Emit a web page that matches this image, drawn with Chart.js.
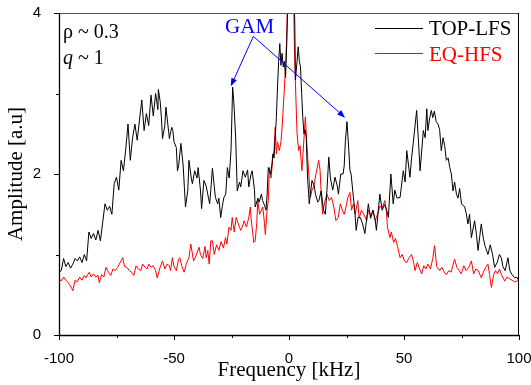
<!DOCTYPE html>
<html><head><meta charset="utf-8">
<script src="https://cdn.jsdelivr.net/npm/chart.js@4.4.0/dist/chart.umd.min.js"></script>
<style>html,body{margin:0;padding:0;background:#fff;}canvas{display:block;}</style>
</head><body>
<canvas id="c" width="531" height="385"></canvas>
<script>
// TOP-LFS spectrum: [frequency kHz, amplitude a.u]
const topLfs = [[-100,0.78],[-99,0.80],[-98,0.95],[-97,0.85],[-96,0.90],[-95,0.83],[-94,0.88],[-93,0.95],[-92,0.92],[-91,0.97],[-90,0.90],[-89,1.00],[-88,0.92],[-87,1.28],[-86,1.20],[-85,1.26],[-84,1.18],[-83,1.30],[-82,1.17],[-81,1.40],[-80,1.63],[-79,1.55],[-78,1.60],[-77,1.50],[-76,1.88],[-75,1.96],[-74,1.80],[-73,2.17],[-72,2.04],[-71,2.30],[-70,2.62],[-69,2.17],[-68,2.45],[-67,2.62],[-66,2.42],[-65,2.67],[-64,2.92],[-63,2.54],[-62,2.75],[-61,2.60],[-60,2.98],[-59,2.72],[-58,3.00],[-57,2.80],[-56.8,3.05],[-56,2.90],[-55.5,2.71],[-55,2.44],[-54,2.60],[-53.5,2.83],[-53,2.70],[-52,2.44],[-51,2.58],[-50.5,2.54],[-50,2.40],[-49,2.33],[-48.5,2.04],[-48,2.10],[-47,2.38],[-46,2.10],[-45.5,1.84],[-45,1.59],[-44,1.80],[-43.5,2.17],[-42.5,1.95],[-42,1.88],[-41,2.04],[-40,1.95],[-39.5,2.08],[-38.5,1.80],[-38,1.57],[-37,1.92],[-36,1.85],[-35,1.70],[-34.5,1.63],[-34,1.80],[-33.3,2.07],[-32.5,1.85],[-32,1.71],[-31,1.63],[-30.5,1.70],[-29.7,1.46],[-29,1.60],[-28.3,1.71],[-27.5,1.75],[-26.8,2.08],[-26,1.95],[-25.2,2.30],[-24.5,3.08],[-24,2.90],[-23.2,2.46],[-22.5,1.79],[-21.5,1.90],[-21,1.84],[-20,2.04],[-19,1.96],[-18,2.05],[-17.5,1.84],[-16.5,2.00],[-16,2.04],[-15,1.80],[-14.7,1.59],[-13.5,1.70],[-13,1.65],[-12,1.75],[-11.5,1.67],[-10.5,1.60],[-10,1.55],[-9.5,1.75],[-9,2.08],[-8,2.00],[-7.5,2.10],[-7,2.25],[-6.5,2.20],[-5.5,2.70],[-5,3.08],[-4.5,3.40],[-4,3.62],[-3.5,3.35],[-3,3.50],[-2.5,3.33],[-2,3.40],[-1.5,3.20],[-1,3.60],[-0.5,4.2],[0,4.8],[0.5,5.0],[1,5.0],[1.5,4.8],[2,4.4],[2.5,3.9],[2.8,3.17],[3.5,3.40],[4,3.58],[4.5,3.40],[5,3.33],[5.5,3.00],[6,2.70],[6.5,2.50],[7,2.55],[7.5,2.45],[8,2.00],[8.8,1.63],[9.5,1.80],[10,1.92],[11,1.85],[11.5,1.75],[12.5,1.65],[13,1.67],[14,1.79],[15,1.55],[15.8,1.50],[16.5,1.80],[17.3,2.21],[18,1.95],[19,1.80],[20,1.96],[21,1.85],[21.5,1.75],[22.5,2.00],[23.5,2.00],[24,2.10],[24.5,2.40],[25.2,2.65],[26,2.30],[26.5,2.04],[27,2.00],[28,1.71],[28.5,1.59],[29.2,1.30],[30,1.46],[31,1.46],[32,1.38],[33,1.26],[34,1.50],[34.5,1.63],[35.5,1.45],[36.5,1.55],[37.5,1.42],[38,1.30],[39.5,1.75],[40.5,1.55],[41.5,1.62],[42.5,1.55],[43.2,1.46],[44.3,2.00],[45.3,1.63],[46,1.80],[47,1.70],[48.3,1.71],[49.7,2.04],[50.5,1.90],[51.2,2.29],[52.6,1.96],[53.3,2.20],[54,2.38],[55.5,2.79],[56.3,2.40],[57,2.04],[58.4,2.54],[59.2,2.45],[59.9,2.81],[60.4,2.54],[61.2,2.70],[61.9,2.79],[62.5,2.70],[63.2,2.78],[64,2.65],[64.8,2.62],[65.5,2.55],[66.2,2.29],[67,2.45],[67.7,2.35],[68.4,2.17],[69.2,2.20],[69.9,2.08],[70.6,2.00],[71.3,1.79],[72,1.90],[72.8,1.75],[73.5,1.70],[74.2,1.82],[75,1.63],[76.4,1.59],[77,1.52],[77.8,1.38],[78.5,1.50],[79.3,1.21],[80.7,1.42],[81.5,1.25],[82.2,1.05],[83.6,1.38],[84.5,1.20],[85.3,1.10],[86.5,1.00],[87.5,1.12],[88.5,1.00],[89.4,0.84],[90.5,0.90],[91.5,1.00],[92.3,0.96],[93,0.85],[94,0.80],[95.2,0.96],[96,0.80],[97,0.75],[98.1,0.71],[99,0.72],[100,0.67]];

// EQ-HFS spectrum: [frequency kHz, amplitude a.u]
const eqHfs = [[-100,0.70],[-99,0.67],[-98,0.72],[-97,0.68],[-96,0.65],[-95.5,0.63],[-94.5,0.58],[-94,0.55],[-93,0.68],[-92,0.66],[-91,0.72],[-90,0.68],[-89,0.74],[-88.3,0.71],[-87.5,0.75],[-86.8,0.78],[-86,0.72],[-85,0.76],[-84,0.72],[-83,0.74],[-82.5,0.65],[-81.5,0.75],[-80.5,0.72],[-79.6,0.84],[-78.5,0.78],[-77.5,0.74],[-76.5,0.82],[-75.5,0.80],[-74.5,0.84],[-73.8,0.88],[-72.3,0.96],[-71.5,0.85],[-70.5,0.84],[-69.4,0.80],[-68.5,0.78],[-67.5,0.74],[-66.5,0.86],[-65.5,0.82],[-64.5,0.80],[-63.6,0.88],[-62.5,0.84],[-61.8,0.82],[-60.9,0.88],[-60,0.84],[-59,0.86],[-58,0.80],[-57.3,0.71],[-56.3,0.82],[-55,0.92],[-54,0.82],[-53,0.88],[-52,0.86],[-51.5,0.80],[-50.7,0.96],[-50,0.85],[-49,0.80],[-48,0.94],[-47.5,0.96],[-46.5,0.85],[-45.6,0.78],[-44.5,0.90],[-43.5,0.96],[-42.7,1.13],[-41.5,0.92],[-40.5,0.98],[-39.1,1.09],[-38.5,1.00],[-37.5,0.95],[-36.5,1.10],[-36,0.96],[-35.3,1.05],[-34.7,0.88],[-34,1.17],[-33.3,1.17],[-32.5,1.00],[-31.5,1.12],[-30.5,1.05],[-29.5,1.16],[-28.5,1.08],[-27.6,1.21],[-27,1.13],[-26.1,1.34],[-25.2,1.30],[-24.7,1.46],[-23.8,1.28],[-23,1.46],[-22,1.38],[-21,1.30],[-20.3,1.34],[-19.5,1.42],[-19,1.38],[-18.5,1.34],[-17.5,1.46],[-16.8,1.59],[-16.5,1.45],[-15.3,1.15],[-14.7,1.17],[-14,1.40],[-13.6,1.67],[-12.8,1.50],[-12,1.55],[-11.4,1.59],[-10.7,1.40],[-10.3,1.25],[-9.5,1.55],[-9,1.67],[-8.5,2.08],[-7.8,1.95],[-7.1,2.17],[-6.5,2.30],[-6,2.58],[-5.5,2.25],[-5,2.40],[-4.2,2.29],[-3.5,2.40],[-3,2.58],[-2.3,2.92],[-1.5,3.33],[-1,3.70],[-0.5,4.3],[0,5.0],[0.5,5.2],[1,5.3],[1.5,5.0],[2,4.2],[2.4,3.50],[2.8,3.12],[3.5,2.50],[4.2,2.29],[4.8,2.35],[5.6,2.04],[6.2,2.30],[7.1,2.71],[7.8,2.35],[8.6,2.00],[9.3,1.71],[10,1.80],[10.8,1.85],[11.7,2.00],[12.9,2.17],[13.5,2.05],[14,1.75],[14.6,1.50],[15.5,1.65],[16.5,1.75],[17.5,1.67],[18.5,1.71],[19.5,1.59],[20.4,1.42],[21.4,1.46],[22.3,1.63],[23.2,1.55],[24,1.50],[24.8,1.59],[25.5,1.70],[26.5,1.77],[27.2,1.55],[28,1.63],[28.8,1.50],[29.9,1.67],[30.5,1.45],[31.5,1.55],[32.5,1.50],[33.8,1.42],[34.5,1.55],[35.5,1.48],[36.5,1.55],[37.5,1.42],[38.5,1.50],[39.5,1.60],[40.5,1.58],[41.7,1.67],[42.3,1.55],[42.8,1.34],[43.9,1.21],[44.5,1.28],[45.5,1.15],[46.3,1.20],[47.2,1.10],[48.3,0.96],[49.2,1.00],[50.2,0.92],[51.2,0.90],[52,0.95],[53.3,1.00],[54.2,0.90],[54.8,0.80],[55.8,0.90],[56.8,0.82],[57.7,0.76],[58.6,0.86],[59.5,0.82],[60.4,0.88],[61.5,0.82],[62.5,0.95],[63.3,1.11],[64.2,0.85],[65.5,0.80],[66.5,0.84],[67.5,0.78],[68.4,0.75],[69.5,0.80],[70.5,0.78],[71.2,0.86],[72,0.94],[73,0.84],[74,0.80],[74.9,0.76],[76,0.86],[77,0.80],[78.2,0.84],[79.3,0.92],[80.3,0.76],[81.2,0.82],[82.3,0.80],[83.6,0.71],[84.5,0.78],[85.5,0.84],[86.5,0.88],[87.2,0.75],[88,0.59],[89,0.75],[89.8,0.80],[90.7,0.76],[91.5,0.82],[92.5,0.74],[93.8,0.67],[94.8,0.72],[95.8,0.70],[97,0.68],[98,0.66],[99,0.67],[100,0.68]];

const xTicks = [-100, -50, 0, 50, 100];
const xMinorTicks = [-75, -25, 25, 75];
const yTicks = [0, 2, 4];
const yMinorTicks = [1, 3];
const seriesNames = ['TOP-LFS', 'EQ-HFS'];
const gamLabel = 'GAM';
const gamAnchor = [-15.5, 3.71];   // arrow origin (data coords)
const gamTargets = [[-25.3, 3.09], [24.4, 2.70]];
const gamText = [-27.8, 3.75];

const SERIF = '"Liberation Serif", "Times New Roman", serif';
const SANS = '"Liberation Sans", Arial, sans-serif';

const decor = {
  id: 'decor',
  afterDraw(chart) {
    const ctx = chart.ctx, a = chart.chartArea;
    const xs = chart.scales.x, ys = chart.scales.y;
    ctx.save();
    // frame
    ctx.lineWidth = 1;
    ctx.strokeStyle = '#555';
    ctx.beginPath(); ctx.moveTo(a.left, a.top + 0.5); ctx.lineTo(a.right, a.top + 0.5); ctx.stroke();
    ctx.strokeStyle = '#000';
    ctx.beginPath(); ctx.moveTo(a.right - 0.5, a.top); ctx.lineTo(a.right - 0.5, a.bottom); ctx.stroke();
    ctx.lineWidth = 1.3;
    ctx.beginPath();
    ctx.moveTo(a.left + 0.5, a.top); ctx.lineTo(a.left + 0.5, a.bottom + 0.5);
    ctx.lineTo(a.right, a.bottom + 0.5);
    ctx.stroke();
    // ticks
    ctx.lineWidth = 1;
    ctx.beginPath();
    xTicks.forEach(v => { const p = Math.round(xs.getPixelForValue(v)) + 0.5; ctx.moveTo(p, a.bottom); ctx.lineTo(p, a.bottom + 5); });
    xMinorTicks.forEach(v => { const p = Math.round(xs.getPixelForValue(v)) + 0.5; ctx.moveTo(p, a.bottom); ctx.lineTo(p, a.bottom + 3); });
    yTicks.forEach(v => { const p = Math.round(ys.getPixelForValue(v)) + 0.5; ctx.moveTo(a.left, p); ctx.lineTo(a.left - 5, p); });
    yMinorTicks.forEach(v => { const p = Math.round(ys.getPixelForValue(v)) + 0.5; ctx.moveTo(a.left, p); ctx.lineTo(a.left - 3, p); });
    ctx.stroke();

    // legend
    const lx0 = 375, lx1 = 423;
    [['#000', 28.5, 35], ['#ff0000', 53.5, 61]].forEach((s, i) => {
      ctx.strokeStyle = s[0]; ctx.lineWidth = 1;
      ctx.beginPath(); ctx.moveTo(lx0, s[1]); ctx.lineTo(lx1, s[1]); ctx.stroke();
      ctx.fillStyle = s[0]; ctx.font = '21px ' + SERIF; ctx.textBaseline = 'alphabetic'; ctx.textAlign = 'left';
      ctx.fillText(seriesNames[i], 429, s[2]);
    });

    // rho and q labels
    ctx.fillStyle = '#000';
    ctx.font = '20px ' + SERIF;
    ctx.fillText('\u03C1 ~ 0.3', a.left + 4, 38);
    ctx.font = 'italic 20px ' + SERIF;
    ctx.fillText('q', a.left + 4, 64);
    const qw = ctx.measureText('q').width;
    ctx.font = '20px ' + SERIF;
    ctx.fillText(' ~ 1', a.left + 4 + qw, 64);

    // GAM annotation
    ctx.fillStyle = '#0000ff'; ctx.strokeStyle = '#0000ff';
    ctx.font = '21px ' + SERIF;
    ctx.fillText(gamLabel, xs.getPixelForValue(gamText[0]), ys.getPixelForValue(gamText[1]));
    const ox = xs.getPixelForValue(gamAnchor[0]), oy = ys.getPixelForValue(gamAnchor[1]);
    gamTargets.forEach(t => {
      const tx = xs.getPixelForValue(t[0]), ty = ys.getPixelForValue(t[1]);
      const ang = Math.atan2(ty - oy, tx - ox);
      const L = 8, W = 3;
      const bx = tx - L * Math.cos(ang), by = ty - L * Math.sin(ang);
      ctx.lineWidth = 1;
      ctx.beginPath(); ctx.moveTo(ox, oy); ctx.lineTo(bx, by); ctx.stroke();
      ctx.beginPath();
      ctx.moveTo(tx, ty);
      ctx.lineTo(bx + W * Math.sin(ang), by - W * Math.cos(ang));
      ctx.lineTo(bx - W * Math.sin(ang), by + W * Math.cos(ang));
      ctx.closePath(); ctx.fill();
    });
    ctx.restore();
  }
};

new Chart(document.getElementById('c'), {
  type: 'line',
  data: {
    datasets: [
      { label: seriesNames[0], data: topLfs.map(p => ({x: p[0], y: p[1]})), borderColor: '#000', borderWidth: 1, pointRadius: 0, tension: 0, order: 1 },
      { label: seriesNames[1], data: eqHfs.map(p => ({x: p[0], y: p[1]})), borderColor: '#ff0000', borderWidth: 1, pointRadius: 0, tension: 0, order: 2 }
    ]
  },
  options: {
    responsive: false, animation: false, devicePixelRatio: 1,
    layout: { padding: { top: 13, right: 12, left: 0, bottom: 0 } },
    plugins: { legend: { display: false }, tooltip: { enabled: false } },
    scales: {
      x: {
        type: 'linear', min: -100, max: 100,
        afterBuildTicks: s => { s.ticks = xTicks.map(v => ({ value: v })); },
        afterFit: s => { s.height = 50; s.paddingLeft = 0; s.paddingRight = 0; },
        grid: { display: false }, border: { display: false },
        ticks: { color: '#000', font: { family: SANS, size: 15 }, padding: 7, maxRotation: 0, autoSkip: false },
        title: { display: true, text: 'Frequency [kHz]', color: '#000', font: { family: SERIF, size: 21 }, padding: { top: 0, bottom: 2 } }
      },
      y: {
        min: 0, max: 4,
        afterBuildTicks: s => { s.ticks = yTicks.map(v => ({ value: v })); },
        afterFit: s => { s.width = 59; s.paddingTop = 0; s.paddingBottom = 0; },
        grid: { display: false }, border: { display: false },
        ticks: { color: '#000', font: { family: SANS, size: 15 }, padding: 10, autoSkip: false },
        title: { display: true, text: 'Amplitude [a.u]', color: '#000', font: { family: SERIF, size: 21 }, padding: { top: 4, bottom: 0 } }
      }
    }
  },
  plugins: [decor]
});
</script>
</body></html>
